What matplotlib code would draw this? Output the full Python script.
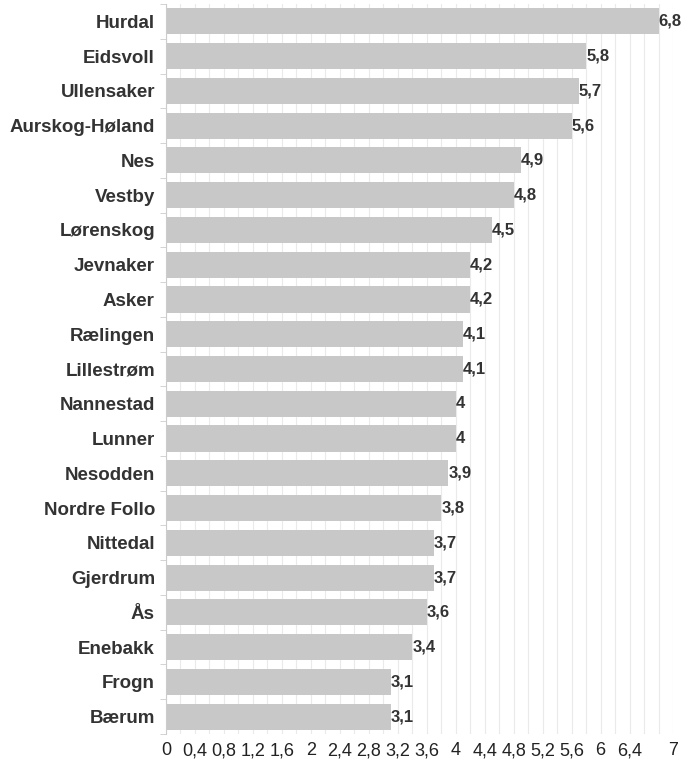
import matplotlib
matplotlib.use("Agg")
import matplotlib.pyplot as plt
import numpy as np

plt.rcParams['font.family'] = ['Liberation Sans', 'DejaVu Sans']

kommuner = ["Hurdal", "Eidsvoll", "Ullensaker", "Aurskog-Høland", "Nes", "Vestby",
            "Lørenskog", "Jevnaker", "Asker", "Rælingen", "Lillestrøm", "Nannestad",
            "Lunner", "Nesodden", "Nordre Follo", "Nittedal", "Gjerdrum", "Ås",
            "Enebakk", "Frogn", "Bærum"]
verdier = [6.8, 5.8, 5.7, 5.6, 4.9, 4.8, 4.5, 4.2, 4.2, 4.1, 4.1, 4.0,
           4.0, 3.9, 3.8, 3.7, 3.7, 3.6, 3.4, 3.1, 3.1]
tick_verdier = [0, 0.4, 0.8, 1.2, 1.6, 2, 2.4, 2.8, 3.2, 3.6, 4, 4.4, 4.8,
                5.2, 5.6, 6, 6.4, 7]


def komma(v):
    s = f"{v:g}"
    return s.replace(".", ",")


fig = plt.figure(figsize=(6.86, 7.59), dpi=100)
ax = fig.add_axes([166 / 686, 1 - 734 / 759, (673 - 166) / 686, (734 - 4) / 759])

y = np.arange(len(kommuner))
ax.barh(y, verdier, height=0.75, color="#c8c8c8", zorder=2)
for yi, v in zip(y, verdier):
    ax.text(v, yi, komma(v), va="center", ha="left",
            fontsize=12, fontweight="bold", color="#333333", zorder=3)

ax.set_ylim(len(kommuner) - 0.5, -0.5)
ax.set_xlim(0, 7)

ax.set_yticks(y)
ax.set_yticklabels(kommuner, fontsize=13.5, fontweight="bold", color="#333333")
ax.set_yticks(np.arange(-0.5, len(kommuner), 1), minor=True)
ax.tick_params(axis="y", which="major", length=0, pad=8)
ax.tick_params(axis="y", which="minor", length=4, color="#cccccc")

ax.set_xticks(tick_verdier)
ax.set_xticklabels([komma(t) for t in tick_verdier], fontsize=13, color="#222222")
ax.set_xticks(np.arange(0, 7.01, 0.2), minor=True)
ax.tick_params(axis="x", which="both", length=0, pad=6)
ax.grid(axis="x", which="both", color="#eaeaea", linewidth=0.8, zorder=0)

for side in ["top", "right", "bottom"]:
    ax.spines[side].set_visible(False)
ax.spines["left"].set_color("#cccccc")

fig.savefig("out.png", dpi=100)
